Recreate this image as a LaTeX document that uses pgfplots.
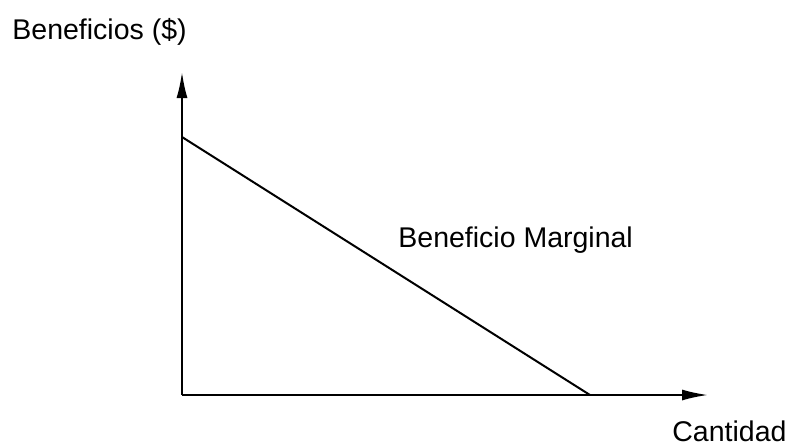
\documentclass[border=0pt]{standalone}
\usepackage{fontspec}
\setmainfont{Liberation Sans}
\usepackage{pgfplots}
\pgfplotsset{compat=1.18}
\usetikzlibrary{arrows.meta}
\begin{document}
\fontsize{14.25}{17}\selectfont
\begin{tikzpicture}
\begin{axis}[
  x=0.5pt, y=0.5pt,
  xmin=0, xmax=526, ymin=0, ymax=323,
  axis lines=left,
  axis line style={line width=1pt, -{Latex[length=13pt,width=5.5pt]}},
  xtick=\empty, ytick=\empty,
  clip=false,
]
\addplot[black, line width=1pt] coordinates {(0,258) (408,0)};
\node[anchor=base west, inner sep=0pt] at (axis cs:-170,356) {Beneficios (\$)};
\node[anchor=base west, inner sep=0pt] at (axis cs:216,148) {Beneficio Marginal};
\node[anchor=base west, inner sep=0pt] at (axis cs:490,-46) {Cantidad};
\coordinate (bl) at (axis cs:-182,-51);
\coordinate (tr) at (axis cs:608,395);
\end{axis}
\pgfresetboundingbox
\path (bl) rectangle (tr);
\end{tikzpicture}
\end{document}
